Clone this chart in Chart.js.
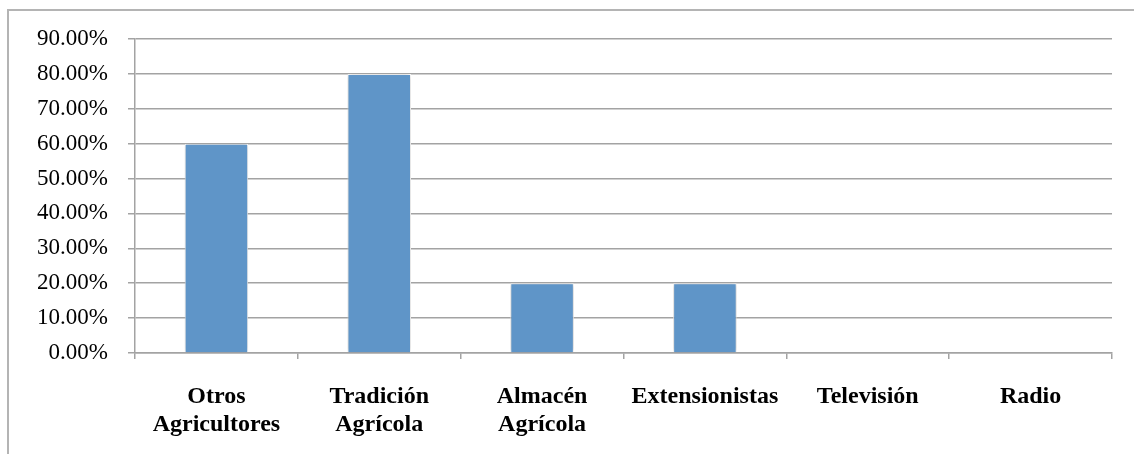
<!DOCTYPE html>
<html>
<head>
<meta charset="utf-8">
<script src="https://cdn.jsdelivr.net/npm/chart.js@4/dist/chart.umd.min.js"></script>
<style>
  html, body { margin: 0; padding: 0; background: #ffffff; overflow: hidden; }
  #wrap { position: relative; width: 1134px; height: 454px; }
  #frame { position: absolute; left: 7px; top: 9px; width: 1200px; height: 600px;
           border: 2px solid #b4b4b4; box-sizing: border-box; }
  canvas { position: absolute; left: 0; top: 0; }
</style>
</head>
<body>
<div id="wrap">
  <div id="frame"></div>
  <canvas id="chart" width="1134" height="454"></canvas>
</div>
<script>
// Fuentes de información utilizadas por los agricultores
const categories = [
  ['Otros', 'Agricultores'],
  ['Tradición', 'Agrícola'],
  ['Almacén', 'Agrícola'],
  'Extensionistas',
  'Televisión',
  'Radio'
];
const percentages = [60, 80, 20, 20, 0, 0];
const yTickMax = 90;
const yTickStep = 10;

const gridGray = '#a3a3a3';
const serif = "'Liberation Serif', 'Times New Roman', serif";

// soft drop shadow behind the bars
const barShadow = {
  id: 'barShadow',
  beforeDatasetDraw(chart) {
    const ctx = chart.ctx;
    ctx.save();
    ctx.shadowColor = 'rgba(0,0,0,0.28)';
    ctx.shadowBlur = 5;
    ctx.shadowOffsetX = 0;
    ctx.shadowOffsetY = 0;
  },
  afterDatasetDraw(chart) {
    chart.ctx.restore();
  }
};

new Chart(document.getElementById('chart'), {
  type: 'bar',
  data: {
    labels: categories,
    datasets: [{
      data: percentages,
      backgroundColor: '#5f95c8',
      borderColor: '#ffffff',
      borderWidth: 1,
      categoryPercentage: 1,
      barPercentage: 0.39
    }]
  },
  options: {
    responsive: false,
    animation: false,
    layout: { padding: { left: 0, right: 22, top: 39, bottom: 0 } },
    plugins: { legend: { display: false }, tooltip: { enabled: false } },
    scales: {
      x: {
        offset: true,
        grid: {
          offset: true,
          drawOnChartArea: false,
          drawTicks: true,
          tickLength: 6,
          color: gridGray,
          lineWidth: 1.5
        },
        border: { color: gridGray, width: 1.5 },
        ticks: {
          color: '#000000',
          padding: 24,
          maxRotation: 0,
          autoSkip: false,
          font: { family: serif, size: 24, weight: 'bold', lineHeight: 1.17 }
        },
        afterFit(scale) { scale.height = 101; }
      },
      y: {
        min: 0,
        max: yTickMax,
        grid: {
          color: gridGray,
          lineWidth: 1.5,
          tickLength: 7
        },
        border: { color: gridGray, width: 1.5 },
        ticks: {
          stepSize: yTickStep,
          color: '#000000',
          padding: 20,
          font: { family: serif, size: 23 },
          callback: v => v.toFixed(2) + '%'
        },
        afterFit(scale) { scale.width = 135; }
      }
    }
  },
  plugins: [barShadow]
});
</script>
</body>
</html>
